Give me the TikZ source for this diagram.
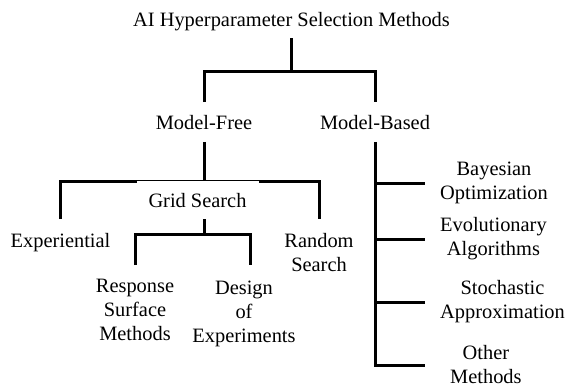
\documentclass[tikz,border=0pt]{standalone}
\usepackage{fontspec}
\setmainfont{Liberation Serif}
\usepackage{tikz}
\usetikzlibrary{positioning}

\begin{document}
\begin{tikzpicture}[x=1pt, y=-1pt,
    lbl/.style={inner xsep=2pt, inner ysep=12.5pt, align=center, font=\fontsize{20.4}{24}\selectfont},
    link/.style={line width=3pt}]
    \useasboundingbox (0,0) rectangle (567,388);

    % Root and the two families
    \node[lbl, inner ysep=7.6pt, anchor=base] (root) at (291.5,26) {AI Hyperparameter Selection Methods};
    \node[lbl, anchor=base] (mf) at (204,129) {Model-Free};
    \node[lbl, anchor=base] (mb) at (375,129) {Model-Based};
    \draw[link] (root.south) -- ++(0,33) coordinate (rootbar);
    \draw[link] (mf.north) |- (rootbar) -| (mb.north);

    % Model-Free methods
    \node[lbl, inner ysep=14pt, anchor=north] (exp) at (60.5,219) {Experiential};
    \node[lbl, inner ysep=14pt, anchor=north] (rnd) at (319,219) {Random\\Search};
    \draw[link] (mf.south) -- ++(0,39.5) coordinate (mfbar);
    \draw[link] (exp.north) |- (mfbar) -| (rnd.north);
    \node[lbl, inner sep=12pt, fill=white, anchor=base] (gs) at (197.5,207) {Grid Search};

    % Grid Search variants
    \node[lbl, inner ysep=14pt, anchor=north] (rsm) at (135,265) {Response\\Surface\\Methods};
    \node[lbl, inner ysep=16pt, anchor=north] (doe) at (244,265) {Design\\of\\Experiments};
    \draw[link] (mf.south |- gs.south) -- ++(0,15) coordinate (gsbar);
    \draw[link] (rsm.north) |- (gsbar) -| ([xshift=6pt]doe.north);

    % Model-Based methods
    \node[lbl, anchor=west, inner xsep=15pt] (bo) at (425,183) {Bayesian\\Optimization};
    \node[lbl, anchor=west, inner xsep=15pt] (ea) at (425,239) {Evolutionary\\Algorithms};
    \node[lbl, anchor=west, inner xsep=15pt] (sa) at (425,302) {Stochastic\\Approximation};
    \node[lbl, anchor=west, inner xsep=25pt] (om) at (425,365) {Other\\Methods};
    \draw[link] (mb.south) |- (om.west);
    \foreach \n in {bo,ea,sa}
        \draw[link] (mb.south |- \n.west) -- (\n.west);
\end{tikzpicture}
\end{document}
